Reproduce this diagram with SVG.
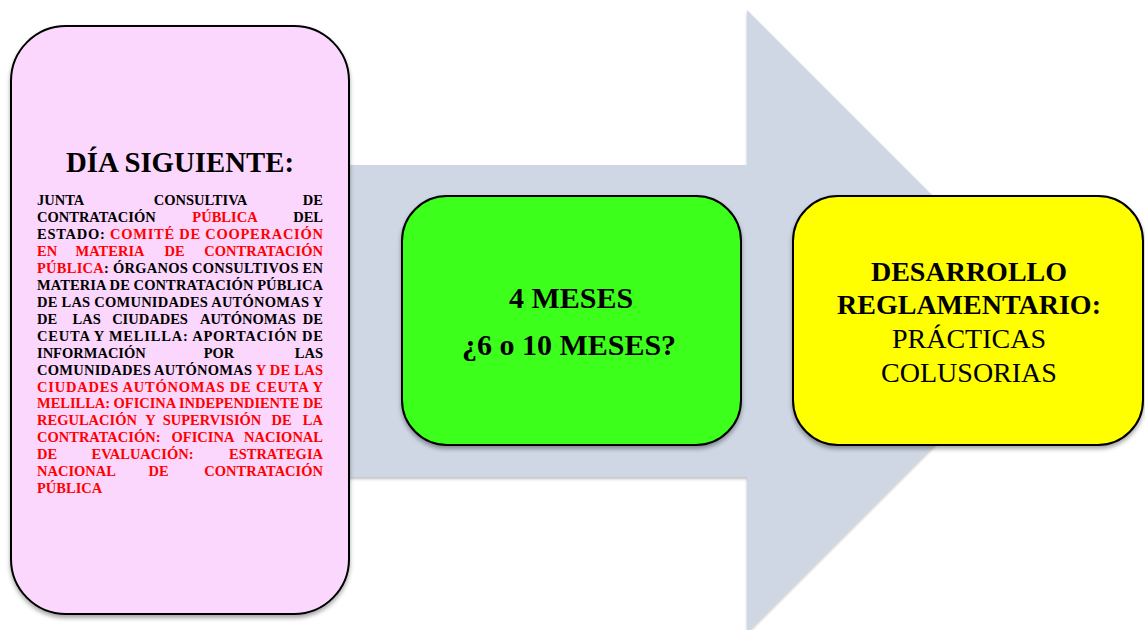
<svg xmlns="http://www.w3.org/2000/svg" width="1145" height="630" viewBox="0 0 1145 630">
<defs>
<style>
.box{stroke:#000;stroke-width:2}
.b{font-family:"Liberation Serif","DejaVu Serif",serif;font-weight:bold;font-size:14.5px;fill:#000}
.r{fill:#FF0000}
.s{text-anchor:start}.m{text-anchor:middle}.e{text-anchor:end}
.big{font-family:"Liberation Serif","DejaVu Serif",serif;fill:#000;text-anchor:middle}
</style>
<filter id="sh" x="-10%" y="-10%" width="120%" height="120%">
<feDropShadow dx="0" dy="3" stdDeviation="2" flood-color="#000" flood-opacity="0.35"/>
</filter>
<filter id="sh2" x="-10%" y="-10%" width="120%" height="120%">
<feDropShadow dx="0" dy="2" stdDeviation="1.5" flood-color="#000" flood-opacity="0.25"/>
</filter>
</defs>
<rect width="1145" height="630" fill="#FFFFFF"/>
<g id="connectors">
<polygon points="340,165 747,165 747,10 1058,321 747,632 747,477 340,477" fill="#CFD6E4" filter="url(#sh2)"/>
</g>
<g id="node-dia-siguiente">
<rect class="box" x="11" y="26" width="338" height="588" rx="55" ry="55" fill="#FBD6FD" filter="url(#sh)"/>
<text class="big" x="180" y="172" font-size="30" font-weight="bold" textLength="228" lengthAdjust="spacingAndGlyphs">DÍA SIGUIENTE:</text>
<g class="b">
<text class="s" x="37" y="205">JUNTA</text><text class="m" x="200.5" y="205">CONSULTIVA</text><text class="e" x="323" y="205">DE</text>
<text class="s" x="37" y="222">CONTRATACIÓN</text><text class="m r" x="225" y="222">PÚBLICA</text><text class="e" x="323" y="222">DEL</text>
<text x="37" y="238.9" textLength="286" lengthAdjust="spacing">ESTADO: <tspan class="r">COMITÉ DE COOPERACIÓN</tspan></text>
<text class="s r" x="37" y="255.9">EN</text><text class="m r" x="110" y="255.9">MATERIA</text><text class="m r" x="174.5" y="255.9">DE</text><text class="e r" x="323" y="255.9">CONTRATACIÓN</text>
<text x="37" y="272.8" textLength="286" lengthAdjust="spacing"><tspan class="r">PÚBLICA</tspan>: ÓRGANOS CONSULTIVOS EN</text>
<text x="37" y="289.8" textLength="286" lengthAdjust="spacing">MATERIA DE CONTRATACIÓN PÚBLICA</text>
<text x="37" y="306.7" textLength="286" lengthAdjust="spacing">DE LAS COMUNIDADES AUTÓNOMAS Y</text>
<text class="s" x="37" y="323.7">DE</text><text class="m" x="86.7" y="323.7">LAS</text><text class="m" x="150" y="323.7">CIUDADES</text><text class="m" x="248" y="323.7">AUTÓNOMAS</text><text class="e" x="323" y="323.7">DE</text>
<text x="37" y="340.6" textLength="286" lengthAdjust="spacing">CEUTA Y MELILLA: APORTACIÓN DE</text>
<text class="s" x="37" y="357.6">INFORMACIÓN</text><text class="m" x="219" y="357.6">POR</text><text class="e" x="323" y="357.6">LAS</text>
<text x="37" y="374.5" textLength="286" lengthAdjust="spacing">COMUNIDADES AUTÓNOMAS <tspan class="r">Y DE LAS</tspan></text>
<text class="r" x="37" y="391.5" textLength="286" lengthAdjust="spacing">CIUDADES AUTÓNOMAS DE CEUTA Y</text>
<text class="r" x="37" y="408.4" textLength="286" lengthAdjust="spacing">MELILLA: OFICINA INDEPENDIENTE DE</text>
<text class="s r" x="37" y="425.4">REGULACIÓN</text><text class="m r" x="150.5" y="425.4">Y</text><text class="m r" x="212" y="425.4">SUPERVISIÓN</text><text class="m r" x="281.5" y="425.4">DE</text><text class="e r" x="323" y="425.4">LA</text>
<text class="s r" x="37" y="442.3">CONTRATACIÓN:</text><text class="m r" x="203" y="442.3">OFICINA</text><text class="e r" x="323" y="442.3">NACIONAL</text>
<text class="s r" x="37" y="459.3">DE</text><text class="m r" x="142.5" y="459.3">EVALUACIÓN:</text><text class="e r" x="323" y="459.3">ESTRATEGIA</text>
<text class="s r" x="37" y="476.2">NACIONAL</text><text class="m r" x="158.5" y="476.2">DE</text><text class="e r" x="323" y="476.2">CONTRATACIÓN</text>
<text class="s r" x="37" y="493.2">PÚBLICA</text>
</g>
</g>
<g id="node-meses">
<rect class="box" x="402" y="196" width="339" height="249" rx="45" ry="45" fill="#3DFF1F" filter="url(#sh)"/>
<text class="big" x="571" y="308" font-size="30" font-weight="bold">4 MESES</text>
<text class="big" x="569" y="355" font-size="30" font-weight="bold">¿6 o 10 MESES?</text>
</g>
<g id="node-desarrollo">
<rect class="box" x="793" y="196" width="350" height="249" rx="45" ry="45" fill="#FFFF00" filter="url(#sh)"/>
<text class="big" x="969" y="281" font-size="28" font-weight="bold">DESARROLLO</text>
<text class="big" x="969" y="314" font-size="28" font-weight="bold">REGLAMENTARIO:</text>
<text class="big" x="969" y="348" font-size="28">PRÁCTICAS</text>
<text class="big" x="969" y="382" font-size="28">COLUSORIAS</text>
</g>
</svg>
